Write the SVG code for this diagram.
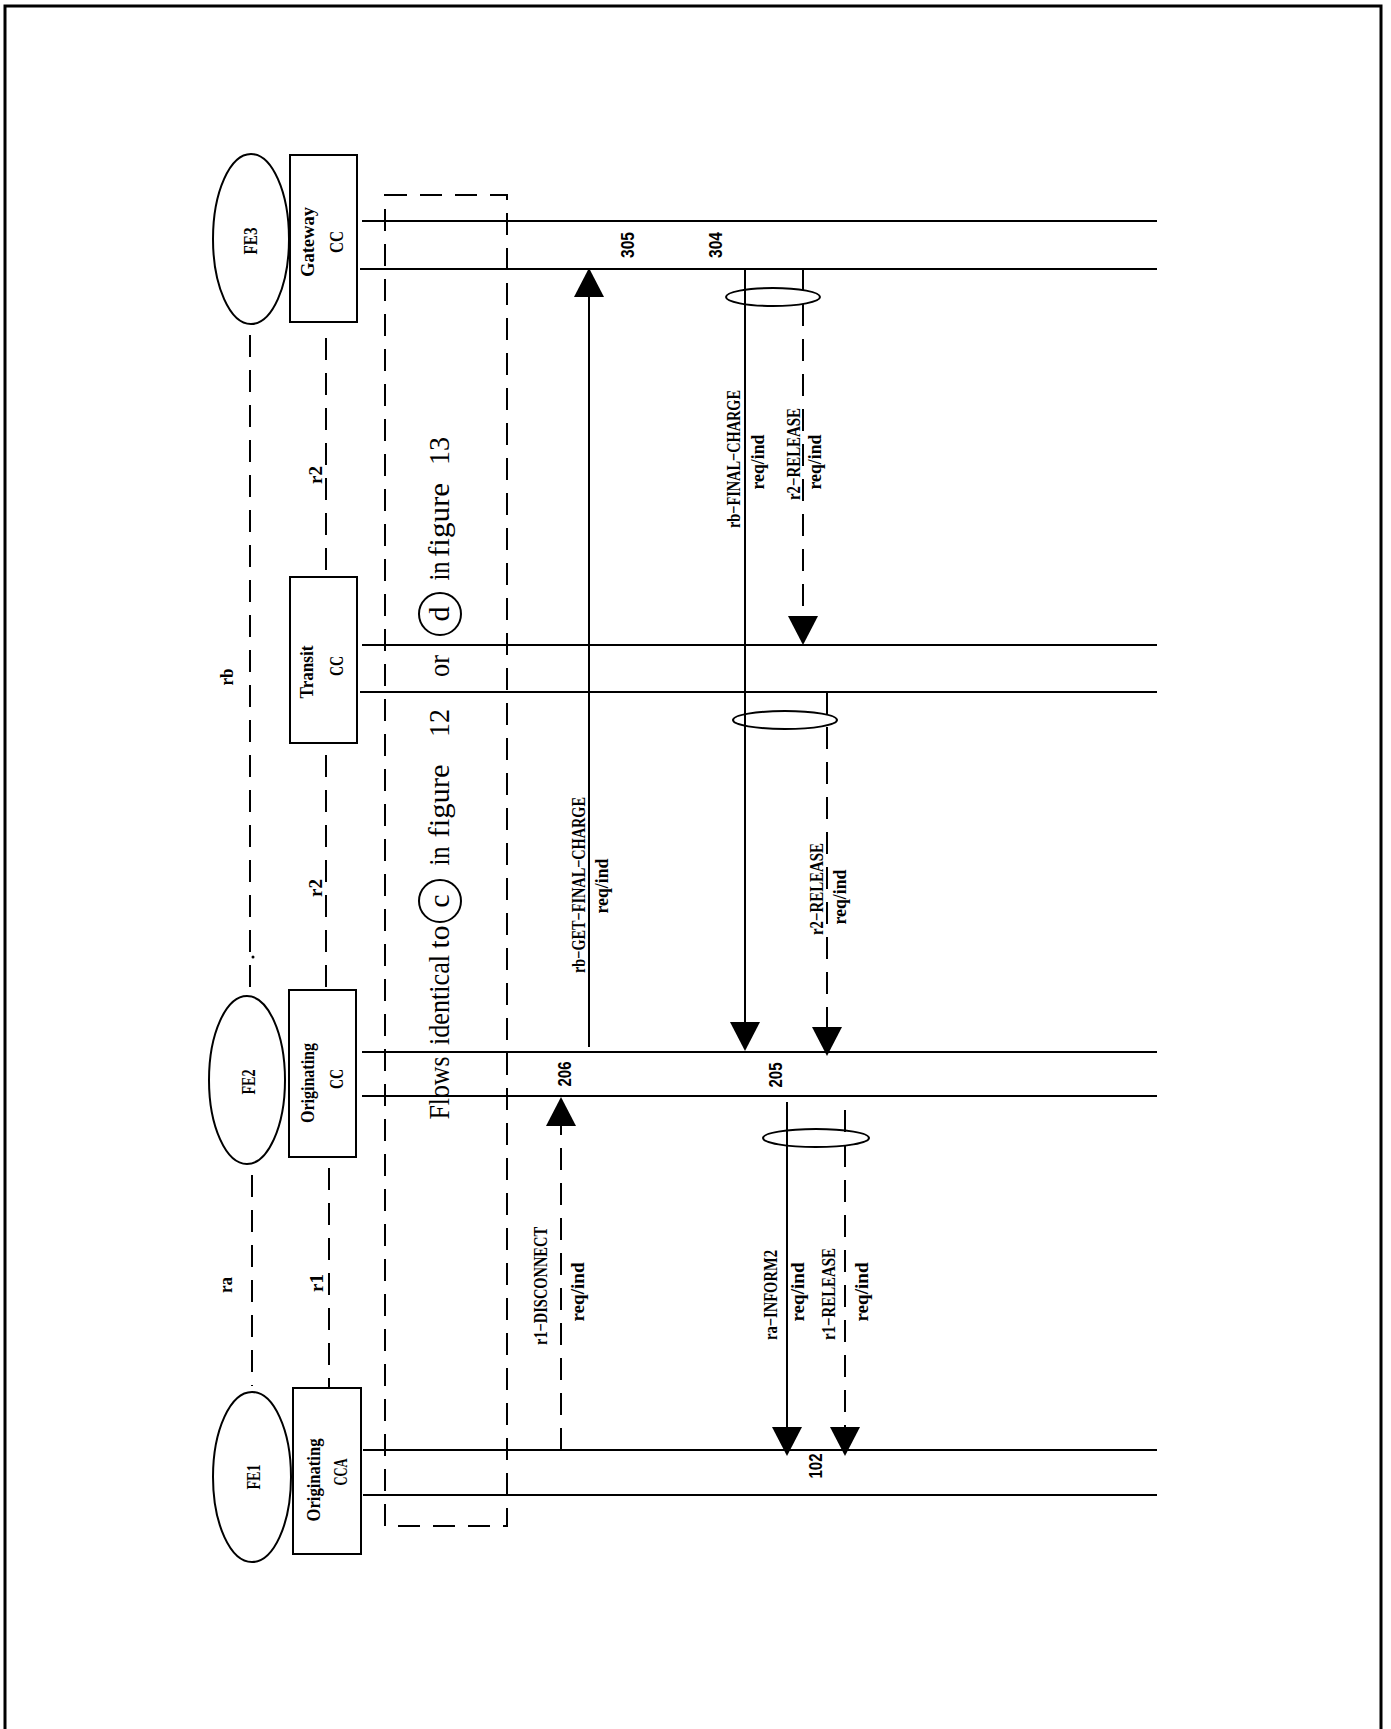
<svg xmlns="http://www.w3.org/2000/svg" width="1391" height="1729" viewBox="0 0 1391 1729">
<style>
.ln{stroke:#000;stroke-width:2;fill:none}
.dl{stroke:#000;stroke-width:2;fill:none;stroke-dasharray:22 13}
.sh{stroke:#000;stroke-width:2;fill:#fff}
.lb{font-family:"Liberation Serif",serif;font-weight:bold;font-size:19px;fill:#000;text-anchor:middle}
.nm{font-family:"Liberation Sans",sans-serif;font-weight:bold;font-size:19px;fill:#000;text-anchor:middle}
.bg{font-family:"Liberation Serif",serif;font-size:30px;fill:#000;text-anchor:middle}
</style>
<defs>
<marker id="ah" markerUnits="userSpaceOnUse" markerWidth="30" markerHeight="30" viewBox="0 0 30 30" refX="0" refY="15" orient="auto">
<path d="M0,0 L29,15 L0,30 z" fill="#000"/>
</marker>
</defs>
<rect width="1391" height="1729" fill="#fff"/>
<path d="M5,1729 V6 H1381 V1729" fill="none" stroke="#000" stroke-width="3"/>

<g id="connectors">
<line class="ln" x1="362" y1="221" x2="1157" y2="221"/>
<line class="ln" x1="360" y1="269" x2="1157" y2="269"/>
<line class="ln" x1="362" y1="645" x2="1157" y2="645"/>
<line class="ln" x1="360" y1="692" x2="1157" y2="692"/>
<line class="ln" x1="362" y1="1052" x2="1157" y2="1052"/>
<line class="ln" x1="362" y1="1096" x2="1157" y2="1096"/>
<line class="ln" x1="363" y1="1450" x2="1157" y2="1450"/>
<line class="ln" x1="363" y1="1495" x2="1157" y2="1495"/>
<line class="dl" x1="250" y1="335" x2="250" y2="990"/>
<circle cx="253" cy="957" r="1.5" fill="#000"/>
<line class="dl" x1="252" y1="1175" x2="252" y2="1386"/>
<line class="dl" x1="326" y1="338" x2="326" y2="577"/>
<line class="dl" x1="326" y1="755" x2="326" y2="990"/>
<line class="dl" x1="329" y1="1168" x2="329" y2="1388"/>
<line class="ln" x1="589" y1="1047" x2="589" y2="297" marker-end="url(#ah)"/>
<line class="ln" x1="745" y1="269" x2="745" y2="1022" marker-end="url(#ah)"/>
<line class="dl" x1="803" y1="269" x2="803" y2="616" marker-end="url(#ah)"/>
<line class="dl" x1="827" y1="692" x2="827" y2="1027" marker-end="url(#ah)"/>
<line class="dl" x1="561" y1="1450" x2="561" y2="1126" marker-end="url(#ah)"/>
<line class="ln" x1="787" y1="1102" x2="787" y2="1427" marker-end="url(#ah)"/>
<line class="dl" x1="845" y1="1110" x2="845" y2="1427" marker-end="url(#ah)"/>
<ellipse class="ln" cx="773" cy="297" rx="47" ry="9"/>
<ellipse class="ln" cx="785" cy="720" rx="52" ry="9"/>
<ellipse class="ln" cx="816" cy="1138" rx="53" ry="9"/>
</g>

<g id="labels">
<text class="lb" font-size="20" transform="translate(233,677) rotate(-90)" textLength="17" lengthAdjust="spacingAndGlyphs">rb</text>
<text class="lb" font-size="20" transform="translate(322,475) rotate(-90)" textLength="18" lengthAdjust="spacingAndGlyphs">r2</text>
<text class="lb" font-size="20" transform="translate(322,888) rotate(-90)" textLength="18" lengthAdjust="spacingAndGlyphs">r2</text>
<text class="lb" font-size="20" transform="translate(232,1285) rotate(-90)" textLength="16" lengthAdjust="spacingAndGlyphs">ra</text>
<text class="lb" font-size="20" transform="translate(323,1283) rotate(-90)" textLength="18" lengthAdjust="spacingAndGlyphs">r1</text>

<text class="nm" transform="translate(634,245) rotate(-90)" textLength="26" lengthAdjust="spacingAndGlyphs">305</text>
<text class="nm" transform="translate(722,245) rotate(-90)" textLength="26" lengthAdjust="spacingAndGlyphs">304</text>
<text class="nm" transform="translate(571,1074) rotate(-90)" textLength="25" lengthAdjust="spacingAndGlyphs">206</text>
<text class="nm" transform="translate(782,1075) rotate(-90)" textLength="25" lengthAdjust="spacingAndGlyphs">205</text>
<text class="nm" transform="translate(822,1466) rotate(-90)" textLength="25" lengthAdjust="spacingAndGlyphs">102</text>

<text class="lb" transform="translate(585,885) rotate(-90)" textLength="176" lengthAdjust="spacingAndGlyphs">rb−GET−FINAL−CHARGE</text>
<text class="lb" transform="translate(608,886) rotate(-90)" textLength="55" lengthAdjust="spacingAndGlyphs">req/ind</text>
<text class="lb" transform="translate(740,459) rotate(-90)" textLength="138" lengthAdjust="spacingAndGlyphs">rb−FINAL−CHARGE</text>
<text class="lb" transform="translate(764,462) rotate(-90)" textLength="55" lengthAdjust="spacingAndGlyphs">req/ind</text>
<text class="lb" transform="translate(800,454) rotate(-90)" textLength="92" lengthAdjust="spacingAndGlyphs">r2−RELEASE</text>
<text class="lb" transform="translate(821,462) rotate(-90)" textLength="55" lengthAdjust="spacingAndGlyphs">req/ind</text>
<text class="lb" transform="translate(823,889) rotate(-90)" textLength="92" lengthAdjust="spacingAndGlyphs">r2−RELEASE</text>
<text class="lb" transform="translate(846,897) rotate(-90)" textLength="55" lengthAdjust="spacingAndGlyphs">req/ind</text>
<text class="lb" transform="translate(547,1286) rotate(-90)" textLength="118" lengthAdjust="spacingAndGlyphs">r1−DISCONNECT</text>
<text class="lb" transform="translate(584,1292) rotate(-90)" textLength="59" lengthAdjust="spacingAndGlyphs">req/ind</text>
<text class="lb" transform="translate(777,1295) rotate(-90)" textLength="90" lengthAdjust="spacingAndGlyphs">ra−INFORM2</text>
<text class="lb" transform="translate(804,1292) rotate(-90)" textLength="59" lengthAdjust="spacingAndGlyphs">req/ind</text>
<text class="lb" transform="translate(835,1294) rotate(-90)" textLength="92" lengthAdjust="spacingAndGlyphs">r1−RELEASE</text>
<text class="lb" transform="translate(868,1292) rotate(-90)" textLength="59" lengthAdjust="spacingAndGlyphs">req/ind</text>
</g>

<g id="flows-box">
<rect x="385" y="195" width="122" height="1331" class="dl"/>
<text class="bg" transform="translate(449,1088) rotate(-90)" textLength="63" lengthAdjust="spacingAndGlyphs">Flows</text>
<text class="bg" transform="translate(449,1000) rotate(-90)" textLength="90" lengthAdjust="spacingAndGlyphs">identical</text>
<text class="bg" transform="translate(449,937) rotate(-90)" textLength="23" lengthAdjust="spacingAndGlyphs">to</text>
<circle class="ln" cx="440" cy="901" r="21"/>
<text class="bg" transform="translate(449,901) rotate(-90)">c</text>
<text class="bg" transform="translate(449,856) rotate(-90)" textLength="19" lengthAdjust="spacingAndGlyphs">in</text>
<text class="bg" transform="translate(449,801) rotate(-90)" textLength="73" lengthAdjust="spacingAndGlyphs">figure</text>
<text class="bg" transform="translate(449,723) rotate(-90)" textLength="28" lengthAdjust="spacingAndGlyphs">12</text>
<text class="bg" transform="translate(449,666) rotate(-90)" textLength="22" lengthAdjust="spacingAndGlyphs">or</text>
<circle class="ln" cx="440" cy="614" r="21"/>
<text class="bg" transform="translate(449,614) rotate(-90)">d</text>
<text class="bg" transform="translate(449,571) rotate(-90)" textLength="19" lengthAdjust="spacingAndGlyphs">in</text>
<text class="bg" transform="translate(449,520) rotate(-90)" textLength="74" lengthAdjust="spacingAndGlyphs">figure</text>
<text class="bg" transform="translate(449,451) rotate(-90)" textLength="28" lengthAdjust="spacingAndGlyphs">13</text>
</g>

<g id="FE3">
<ellipse class="sh" cx="251" cy="239" rx="38" ry="85"/>
<text class="lb" font-size="22" transform="translate(257,241) rotate(-90)" textLength="27" lengthAdjust="spacingAndGlyphs">FE3</text>
</g>
<g id="GatewayCC">
<rect class="sh" x="290" y="155" width="67" height="167"/>
<text class="lb" font-size="20" transform="translate(314,242) rotate(-90)" textLength="70" lengthAdjust="spacingAndGlyphs">Gateway</text>
<text class="lb" font-size="21" transform="translate(343,242) rotate(-90)" textLength="22" lengthAdjust="spacingAndGlyphs">CC</text>
</g>
<g id="TransitCC">
<rect class="sh" x="290" y="577" width="67" height="166"/>
<text class="lb" font-size="20" transform="translate(313,672) rotate(-90)" textLength="53" lengthAdjust="spacingAndGlyphs">Transit</text>
<text class="lb" font-size="21" transform="translate(343,666) rotate(-90)" textLength="20" lengthAdjust="spacingAndGlyphs">CC</text>
</g>
<g id="FE2">
<ellipse class="sh" cx="247" cy="1080" rx="38" ry="84"/>
<text class="lb" font-size="22" transform="translate(255,1082) rotate(-90)" textLength="25" lengthAdjust="spacingAndGlyphs">FE2</text>
</g>
<g id="OriginatingCC">
<rect class="sh" x="289" y="990" width="67" height="167"/>
<text class="lb" font-size="19" transform="translate(314,1083) rotate(-90)" textLength="80" lengthAdjust="spacingAndGlyphs">Originating</text>
<text class="lb" font-size="21" transform="translate(343,1079) rotate(-90)" textLength="20" lengthAdjust="spacingAndGlyphs">CC</text>
</g>
<g id="FE1">
<ellipse class="sh" cx="252" cy="1477" rx="39" ry="85"/>
<text class="lb" font-size="22" transform="translate(260,1477) rotate(-90)" textLength="25" lengthAdjust="spacingAndGlyphs">FE1</text>
</g>
<g id="OriginatingCCA">
<rect class="sh" x="293" y="1388" width="68" height="166"/>
<text class="lb" font-size="19" transform="translate(320,1480) rotate(-90)" textLength="83" lengthAdjust="spacingAndGlyphs">Originating</text>
<text class="lb" font-size="21" transform="translate(347,1472) rotate(-90)" textLength="27" lengthAdjust="spacingAndGlyphs">CCA</text>
</g>
</svg>
